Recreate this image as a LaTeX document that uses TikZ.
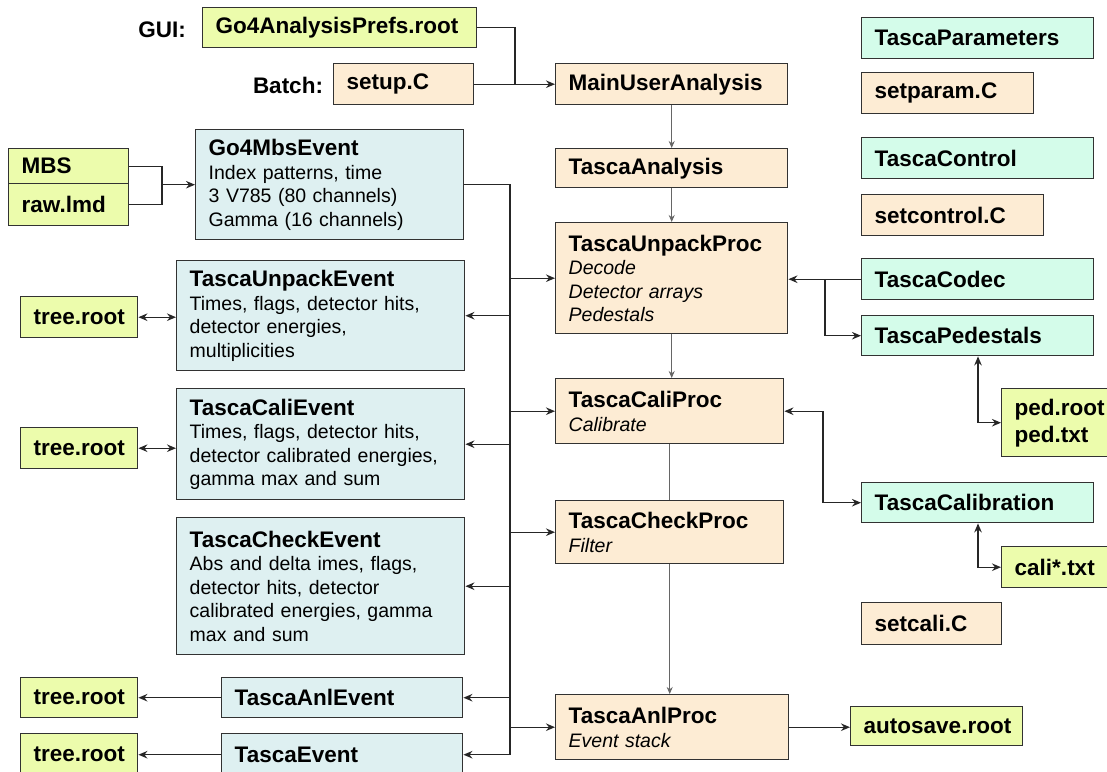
\documentclass[tikz,border=0pt]{standalone}
\usepackage{fontspec}
\setmainfont{Liberation Sans}
\usetikzlibrary{arrows.meta, calc}
\definecolor{filegreen}{RGB}{236,252,172}
\definecolor{procpeach}{RGB}{253,236,212}
\definecolor{evtblue}{RGB}{222,240,241}
\definecolor{parmint}{RGB}{212,252,234}
\definecolor{boxline}{RGB}{50,50,50}
\newcommand{\hd}[1]{{\fontsize{22.5}{26}\selectfont\bfseries #1}}

\begin{document}
\begin{tikzpicture}[x=1pt, y=-1pt, >={Stealth[length=9pt,width=7.5pt]},
  box/.style={draw=boxline, line width=1.4pt, anchor=north west, align=left,
    inner xsep=13pt, inner ysep=0pt, font=\fontsize{19.5}{23.5}\selectfont},
  wh/.style 2 args={minimum width=#1pt, minimum height=#2pt,
    /utils/exec={\pgfmathsetlengthmacro\boxtw{#1pt-26pt}}, text width=\boxtw},
  file/.style={box, fill=filegreen},
  proc/.style={box, fill=procpeach},
  evt/.style={box, fill=evtblue},
  par/.style={box, fill=parmint},
  lbl/.style={font=\fontsize{22.5}{26}\selectfont\bfseries},
  conn/.style={draw=black!85, line width=1.4pt},
  flow/.style={draw=black!60, line width=1pt, >={Stealth[length=7pt,width=6pt]}}]
  \clip (0,0) rectangle (1107,771);
  \fill[white] (0,0) rectangle (1107,771);

  % Setup
  \node[lbl] (gui) at (162,30) {GUI:};
  \node[lbl] (batch) at (288,85) {Batch:};
  \node[file, wh={274}{40}] (prefs) at (202,7) {\hd{Go4AnalysisPrefs.root}};
  \node[proc, wh={140}{41}] (setup) at (333,63) {\hd{setup.C}};
  \node[proc, wh={232}{41}] (main) at (555,63) {\hd{MainUserAnalysis}};
  \node[proc, wh={232}{39}] (ana) at (555,148) {\hd{TascaAnalysis}};

  % Parameter containers
  \node[par, wh={232}{41}] (params) at (861,17) {\hd{TascaParameters}};
  \node[proc, wh={172}{41}] (setparam) at (861,72) {\hd{setparam.C}};
  \node[par, wh={232}{41}] (control) at (861,137) {\hd{TascaControl}};
  \node[proc, wh={182}{41}] (setcontrol) at (861,194) {\hd{setcontrol.C}};
  \node[par, wh={232}{41}] (codec) at (861,258) {\hd{TascaCodec}};
  \node[par, wh={232}{40}] (peds) at (861,315) {\hd{TascaPedestals}};
  \node[file, wh={130}{68}, font=\fontsize{22.5}{27}\selectfont\bfseries] (pedfile) at (1001,388) {ped.root\\ped.txt};
  \node[par, wh={232}{40}] (calib) at (861,482) {\hd{TascaCalibration}};
  \node[file, wh={130}{41}] (calitxt) at (1001,546) {\hd{cali*.txt}};
  \node[proc, wh={140}{42}] (setcali) at (861,602) {\hd{setcali.C}};

  % Input
  \node[file, wh={120}{35}] (mbs) at (8,148) {\hd{MBS}};
  \node[file, wh={120}{42}] (raw) at (8,183) {\hd{raw.lmd}};
  \node[evt, wh={268}{110}] (go4mbs) at (195,129)
    {\hd{Go4MbsEvent}\\Index patterns, time\\3 V785 (80 channels)\\Gamma (16 channels)};

  % Steps
  \node[proc, wh={232}{111}] (unpack) at (555,222)
    {\hd{TascaUnpackProc}\\\textit{Decode}\\\textit{Detector arrays}\\\textit{Pedestals}};
  \node[proc, wh={228}{65}] (cali) at (555,378) {\hd{TascaCaliProc}\\\textit{Calibrate}};
  \node[proc, wh={228}{63}] (check) at (555,500) {\hd{TascaCheckProc}\\\textit{Filter}};
  \node[proc, wh={233}{65}] (anl) at (555,694) {\hd{TascaAnlProc}\\\textit{Event stack}};
  \node[file, wh={172}{39}] (autosave) at (850,706) {\hd{autosave.root}};

  % Output events
  \node[evt, wh={288}{110}] (unpackev) at (176,260)
    {\hd{TascaUnpackEvent}\\Times, flags, detector hits,\\detector energies,\\multiplicities};
  \node[evt, wh={288}{111}] (calievt) at (176,388)
    {\hd{TascaCaliEvent}\\Times, flags, detector hits,\\detector calibrated energies,\\gamma max and sum};
  \node[evt, wh={288}{137}] (checkev) at (176,517)
    {\hd{TascaCheckEvent}\\Abs and delta imes, flags,\\detector hits, detector\\calibrated energies, gamma\\max and sum};
  \node[evt, wh={241}{40}] (anlev) at (221,677) {\hd{TascaAnlEvent}};
  \node[evt, wh={241}{42}] (tascaev) at (221,733) {\hd{TascaEvent}};
  \node[file, wh={117}{41}] (tree1) at (20,296) {\hd{tree.root}};
  \node[file, wh={117}{41}] (tree2) at (20,427) {\hd{tree.root}};
  \node[file, wh={117}{40}] (tree3) at (20,677) {\hd{tree.root}};
  \node[file, wh={117}{42}] (tree4) at (20,733) {\hd{tree.root}};

  % Junction points
  \coordinate (guij) at (515,0);
  \coordinate (mbsj) at (162,0);
  \coordinate (bus) at (510,0);
  \coordinate (codj) at (825,0);
  \coordinate (calj) at (823,0);
  \coordinate (pedj) at (978,0);

  % Connections
  \draw[conn] (prefs.east) -| (guij |- main.west);
  \draw[conn,->] (setup.east) -- (main.west);
  \draw[conn] (mbs.east) -| (mbsj |- raw.east) -- (raw.east);
  \draw[conn,->] (mbsj |- go4mbs.west) -- (go4mbs.west);
  \draw[conn] (go4mbs.east) -| (bus |- tascaev.east);
  \foreach \n in {unpack, cali, check, anl}
    \draw[conn,->] (bus |- \n.west) -- (\n.west);
  \foreach \n in {unpackev, calievt, checkev, anlev, tascaev}
    \draw[conn,->] (bus |- \n.east) -- (\n.east);
  \draw[conn,<->] (tree1.east) -- (tree1.east -| unpackev.west);
  \draw[conn,<->] (tree2.east) -- (tree2.east -| calievt.west);
  \draw[conn,->] (anlev.west) -- (tree3.east);
  \draw[conn,->] (tascaev.west) -- (tree4.east);
  \draw[conn,->] (codec.west) -- (codec.west -| unpack.east);
  \draw[conn,->] (codj |- codec.west) |- (peds.west);
  \draw[conn,<->] (cali.east) -- (calj |- cali.east) |- (calib.west);
  \draw[conn,<->] (pedj |- peds.south) |- (pedfile.west);
  \draw[conn,<->] (pedj |- calib.south) |- (calitxt.west);
  \draw[conn,->] (anl.east) -- (anl.east -| autosave.west);

  % Main flow
  \draw[flow,->] (main.south) -- (main.south |- ana.north);
  \draw[flow,->] (ana.south) -- (ana.south |- unpack.north);
  \draw[flow,->] (unpack.south) -- (unpack.south |- cali.north);
  \draw[flow] (cali.south) -- (cali.south |- check.north);
  \draw[flow,->] (check.south) -- (check.south |- anl.north);
\end{tikzpicture}
\end{document}
